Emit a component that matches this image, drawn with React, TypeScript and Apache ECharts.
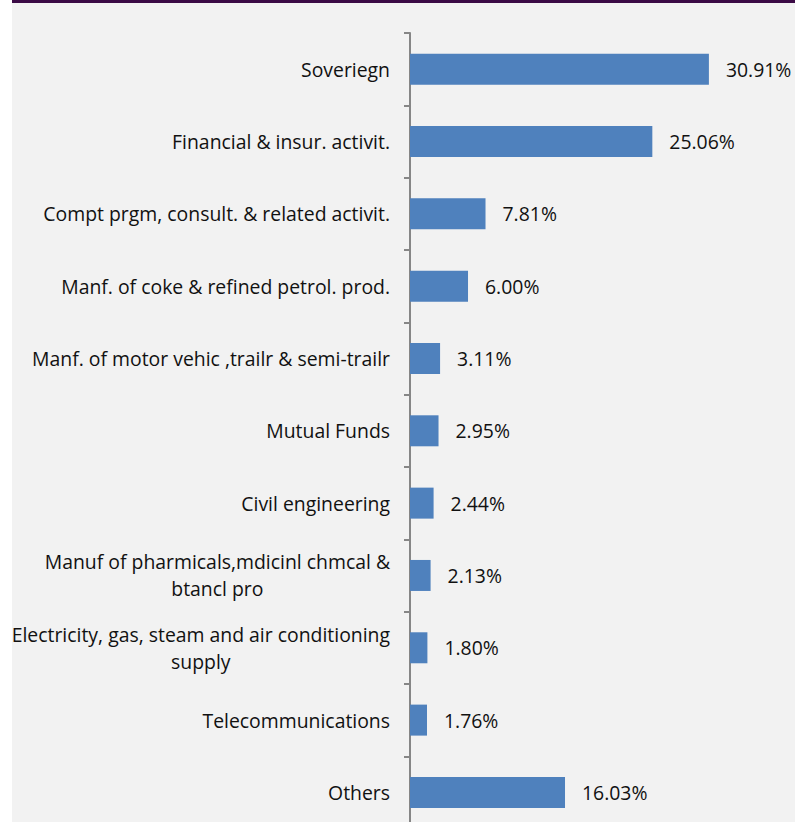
import React, { useEffect, useRef } from "react";
import * as echarts from "echarts";

const categories = [
  "Soveriegn",
  "Financial & insur. activit.",
  "Compt prgm, consult. & related activit.",
  "Manf. of coke & refined petrol. prod.",
  "Manf. of motor vehic ,trailr & semi-trailr",
  "Mutual Funds",
  "Civil engineering",
  "Manuf of pharmicals,mdicinl chmcal &\nbtancl pro",
  "Electricity, gas, steam and air conditioning\nsupply",
  "Telecommunications",
  "Others",
];

const values = [30.91, 25.06, 7.81, 6.0, 3.11, 2.95, 2.44, 2.13, 1.8, 1.76, 16.03];

const FONT = "Open Sans";
const FS = 19.4;

export default function App() {
  const ref = useRef<HTMLDivElement>(null);

  useEffect(() => {
    if (!ref.current) return;
    const chart = echarts.init(ref.current, null, { renderer: "svg" });
    chart.setOption({
      animation: false,
      backgroundColor: "#f2f2f2",
      graphic: [
        {
          type: "rect",
          left: 0,
          top: 0,
          shape: { width: 783, height: 3 },
          style: { fill: "#3b0a45" },
          silent: true,
        },
      ],
      grid: {
        left: 398,
        top: 33,
        width: 386.8,
        height: 795.6,
        containLabel: false,
        outerBoundsMode: "none",
      },
      xAxis: {
        type: "value",
        min: 0,
        max: 40,
        show: false,
      },
      yAxis: {
        type: "category",
        inverse: true,
        data: categories,
        axisLine: { show: true, lineStyle: { color: "#868686", width: 2 } },
        axisTick: { show: true, length: 6, lineStyle: { color: "#868686", width: 2 } },
        splitLine: { show: false },
        axisLabel: {
          margin: 20,
          fontFamily: FONT,
          fontSize: FS,
          color: "#111111",
          lineHeight: 27,
          formatter: (v: string) =>
            v
              .split("\n")
              .map((l) => `{c|${l}}`)
              .join("\n"),
          rich: {
            c: {
              align: "center",
              fontFamily: FONT,
              fontSize: FS,
              color: "#111111",
              lineHeight: 27,
            },
          },
        },
      },
      series: [
        {
          type: "bar",
          data: values,
          barWidth: 31,
          itemStyle: { color: "#4f81bd" },
          label: {
            show: true,
            position: "right",
            distance: 17,
            fontFamily: FONT,
            fontSize: FS,
            color: "#111111",
            formatter: (p: any) => p.value.toFixed(2) + "%",
          },
        },
      ],
    });
    return () => chart.dispose();
  }, []);

  return (
    <div
      style={{
        position: "absolute",
        left: 0,
        top: 0,
        width: 795,
        height: 822,
        background: "#ffffff",
        overflow: "hidden",
      }}
    >
      <div
        ref={ref}
        style={{ position: "absolute", left: 12, top: 0, width: 783, height: 840 }}
      />
    </div>
  );
}
